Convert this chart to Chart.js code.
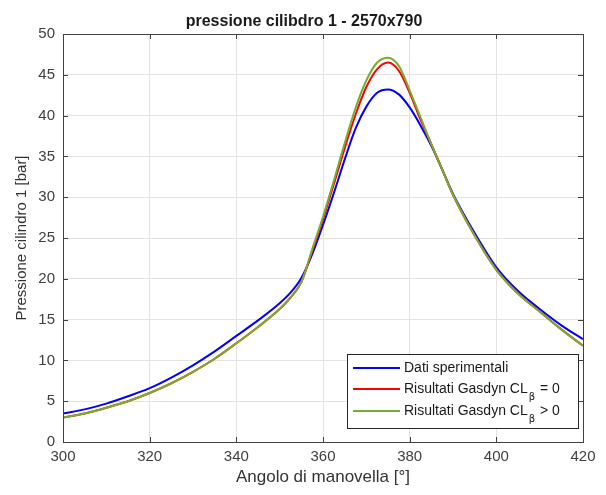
<!DOCTYPE html>
<html>
<head>
<meta charset="utf-8">
<script src="https://cdn.jsdelivr.net/npm/chart.js@4.4.1/dist/chart.umd.min.js"></script>
<style>
  body { margin: 0; background: #fff; }
  #wrap { width: 606px; height: 495px; }
</style>
</head>
<body>
<div id="wrap"><canvas id="pressChart"></canvas></div>
<script>
/* ---------- Data ---------- */
const ANGLE = [300,305,310,315,320,325,330,335,340,345,350,352.5,355,357.5,360,362.5,365,367.5,370,372.5,375,377.5,380,382.5,385,387.5,390,395,400,405,410,415,420];

const SPERIMENTALI = [3.5,4.0,4.7,5.6,6.6,7.9,9.4,11.1,13.0,14.9,17.0,18.3,20.1,23.0,26.6,30.5,34.6,38.4,41.1,42.8,43.2,42.6,41.0,38.8,36.3,33.4,30.4,25.6,21.4,18.5,16.3,14.3,12.6];
const GASDYN_ZERO   = [3.0,3.5,4.2,5.0,6.0,7.2,8.6,10.2,12.1,14.1,16.3,17.7,19.6,23.4,27.3,31.6,36.0,40.1,43.5,45.7,46.5,45.5,42.8,39.5,36.5,33.4,30.3,25.3,21.1,18.2,16.0,13.8,11.8];
const GASDYN_POS    = [3.0,3.5,4.2,5.0,6.0,7.2,8.6,10.2,12.1,14.1,16.3,17.7,19.6,23.6,27.6,32.0,36.6,40.9,44.3,46.5,47.1,46.1,43.1,39.8,36.5,33.4,30.3,25.3,21.1,18.2,16.0,13.8,11.8];

const LABELS = ["Dati sperimentali", "Risultati Gasdyn CL\u1D66 = 0", "Risultati Gasdyn CL\u1D66 > 0"];
const COLORS = ["#0000ff", "#ff0000", "#77ac30"];
const X_TICKS = [300,320,340,360,380,400,420];
const Y_TICKS = [0,5,10,15,20,25,30,35,40,45,50];
const TITLE = "pressione cilibdro 1 - 2570x790";

const FONT = "'Liberation Sans', Arial, sans-serif";
const AXIS_COLOR = "#404040";

function pairs(ys) {
  return ANGLE.map((a, i) => ({x: a, y: ys[i]}));
}

/* ---------- Box, inward ticks, title, legend ---------- */
const matlabLook = {
  id: "matlabLook",
  afterDatasetsDraw(chart) {
    const {ctx, chartArea: a, scales} = chart;
    ctx.save();
    ctx.strokeStyle = AXIS_COLOR;
    ctx.lineWidth = 1;
    ctx.beginPath();
    X_TICKS.forEach(t => {
      const px = Math.round(scales.x.getPixelForValue(t)) + 0.5;
      ctx.moveTo(px, a.bottom); ctx.lineTo(px, a.bottom - 5);
      ctx.moveTo(px, a.top); ctx.lineTo(px, a.top + 5);
    });
    Y_TICKS.forEach(t => {
      const py = Math.round(scales.y.getPixelForValue(t)) + 0.5;
      ctx.moveTo(a.left, py); ctx.lineTo(a.left + 5, py);
      ctx.moveTo(a.right, py); ctx.lineTo(a.right - 5, py);
    });
    ctx.stroke();
    ctx.strokeRect(Math.round(a.left) + 0.5, Math.round(a.top) + 0.5,
                   Math.round(a.right - a.left), Math.round(a.bottom - a.top));

    // title
    ctx.fillStyle = "#1a1a1a";
    ctx.font = "bold 16px " + FONT;
    ctx.textAlign = "center";
    ctx.textBaseline = "middle";
    ctx.fillText(TITLE, 304, 22);

    // legend box
    const bx = 347, by = 354, bw = 231, bh = 74;
    ctx.fillStyle = "#fff";
    ctx.fillRect(bx, by, bw, bh);
    ctx.strokeStyle = "#262626";
    ctx.strokeRect(bx + 0.5, by + 0.5, bw, bh);
    const rows = [368, 389, 411];
    chart.data.datasets.forEach((ds, i) => {
      const y = rows[i];
      ctx.strokeStyle = ds.borderColor;
      ctx.lineWidth = 2;
      ctx.beginPath();
      ctx.moveTo(353, y); ctx.lineTo(400, y);
      ctx.stroke();
      ctx.fillStyle = "#1a1a1a";
      ctx.textAlign = "left";
      ctx.textBaseline = "middle";
      const parts = ds.label.split("\u1D66");
      let x = 404;
      ctx.font = "14px " + FONT;
      ctx.fillText(parts[0], x, y);
      if (parts.length > 1) {
        x += ctx.measureText(parts[0]).width + 1;
        ctx.font = "10px 'DejaVu Sans', sans-serif";
        ctx.fillText("\u03B2", x, y + 8);
        x += ctx.measureText("\u03B2").width + 1;
        ctx.font = "14px " + FONT;
        ctx.fillText(parts[1], x, y);
      }
    });
    ctx.restore();
  }
};

new Chart(document.getElementById("pressChart"), {
  type: "line",
  data: {
    datasets: [
      {label: LABELS[0], data: pairs(SPERIMENTALI), borderColor: COLORS[0], order: 3},
      {label: LABELS[1], data: pairs(GASDYN_ZERO),  borderColor: COLORS[1], order: 2},
      {label: LABELS[2], data: pairs(GASDYN_POS),   borderColor: COLORS[2], order: 1},
    ].map(d => Object.assign(d, {
      borderWidth: 2, pointRadius: 0, fill: false, cubicInterpolationMode: "monotone"
    }))
  },
  options: {
    responsive: true,
    maintainAspectRatio: false,
    animation: false,
    events: [],
    layout: { padding: {left: 0, right: 23, top: 34, bottom: 0} },
    plugins: {
      legend: { display: false },
      title: { display: false },
      tooltip: { enabled: false }
    },
    scales: {
      x: {
        type: "linear",
        min: 300, max: 420,
        afterBuildTicks: s => { s.ticks = X_TICKS.map(v => ({value: v})); },
        afterFit: s => { s.height = 53; },
        grid: { color: "#e3e3e3", drawTicks: false },
        border: { color: AXIS_COLOR },
        ticks: { color: AXIS_COLOR, padding: 6, font: {family: FONT, size: 15}, maxRotation: 0 },
        title: {
          display: true, text: "Angolo di manovella [°]", color: "#333",
          font: {family: FONT, size: 17}, padding: {top: 0, bottom: 7}
        }
      },
      y: {
        min: 0, max: 50,
        afterBuildTicks: s => { s.ticks = Y_TICKS.map(v => ({value: v})); },
        afterFit: s => { s.width = 63; },
        grid: { color: "#e3e3e3", drawTicks: false },
        border: { color: AXIS_COLOR },
        ticks: { color: AXIS_COLOR, padding: 8, font: {family: FONT, size: 15} },
        title: {
          display: true, text: "Pressione cilindro 1 [bar]", color: "#333",
          font: {family: FONT, size: 15}, padding: {top: 13, bottom: 0}
        }
      }
    }
  },
  plugins: [matlabLook]
});
</script>
</body>
</html>
